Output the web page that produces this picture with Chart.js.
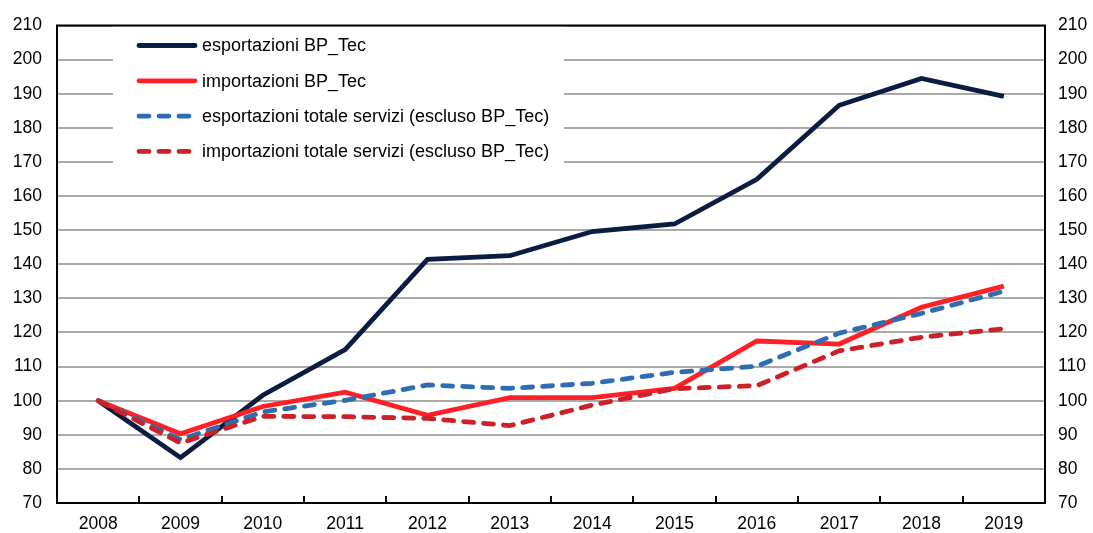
<!DOCTYPE html>
<html>
<head>
<meta charset="utf-8">
<script src="https://cdn.jsdelivr.net/npm/chart.js@4/dist/chart.umd.min.js"></script>
<style>
html,body{margin:0;padding:0;background:#fff;}
#wrap{width:1093px;height:533px;}
</style>
</head>
<body>
<div id="wrap"><canvas id="c" width="1093" height="533"></canvas></div>
<script>
const years = ['2008','2009','2010','2011','2012','2013','2014','2015','2016','2017','2018','2019'];
const esportazioniBPTec = [100, 83.3, 101.6, 115.0, 141.4, 142.5, 149.6, 151.8, 164.9, 186.6, 194.5, 189.2];
const importazioniBPTec = [100, 90.3, 98.3, 102.5, 95.7, 100.9, 100.9, 103.6, 117.5, 116.6, 127.4, 133.6];
const esportazioniTotale = [100, 88.6, 96.7, 100.1, 104.6, 103.6, 105.1, 108.3, 110.1, 119.8, 125.6, 132.1];
const importazioniTotale = [100, 87.6, 95.4, 95.3, 94.8, 92.7, 98.7, 103.5, 104.4, 114.6, 118.6, 121.1];
const seriesLabels = ['esportazioni BP_Tec','importazioni BP_Tec','esportazioni totale servizi (escluso BP_Tec)','importazioni totale servizi (escluso BP_Tec)'];
const yMin = 70, yMax = 210, yStep = 10;

const FONT = '"Liberation Sans", Arial, sans-serif';
const DASH = [10, 10];

const boxPlugin = {
  id: 'boxPlugin',
  beforeDatasetsDraw(chart) {
    const ctx = chart.ctx, a = chart.chartArea;
    ctx.save();
    ctx.fillStyle = '#fff';
    ctx.fillRect(a.left + 56, a.top + 1, 451, 148);
    ctx.restore();
  },
  afterDatasetsDraw(chart) {
    const ctx = chart.ctx, a = chart.chartArea, xs = chart.scales.x;
    ctx.save();
    // legend
    chart.data.datasets.forEach((ds, i) => {
      const y = a.top + 20 + i * 35.3;
      ctx.beginPath();
      ctx.strokeStyle = ds.borderColor;
      ctx.lineWidth = ds.borderWidth;
      ctx.lineCap = 'round';
      ctx.setLineDash(ds.borderDash || []);
      ctx.moveTo(a.left + 82, y);
      ctx.lineTo(a.left + 138, y);
      ctx.stroke();
      ctx.setLineDash([]);
      ctx.fillStyle = '#000';
      ctx.font = '18px ' + FONT;
      ctx.textBaseline = 'middle';
      ctx.textAlign = 'left';
      ctx.fillText(ds.label, a.left + 145, y + 1);
    });
    // plot border
    ctx.strokeStyle = '#000';
    ctx.lineWidth = 2;
    ctx.lineCap = 'butt';
    ctx.strokeRect(a.left, a.top, a.right - a.left, a.bottom - a.top);
    // inward tick marks between categories
    for (let i = 0; i < years.length - 1; i++) {
      const x = Math.round((xs.getPixelForValue(i) + xs.getPixelForValue(i + 1)) / 2);
      ctx.beginPath();
      ctx.moveTo(x, a.bottom);
      ctx.lineTo(x, a.bottom - 7);
      ctx.stroke();
    }
    ctx.restore();
  }
};

const yTicks = {
  stepSize: yStep,
  color: '#000',
  font: { family: FONT, size: 17.5 },
};

new Chart(document.getElementById('c'), {
  type: 'line',
  data: {
    labels: years,
    datasets: [
      { label: seriesLabels[0], data: esportazioniBPTec, borderColor: '#0b1c42', borderWidth: 4.8, order: 3 },
      { label: seriesLabels[1], data: importazioniBPTec, borderColor: '#ff1f27', borderWidth: 4.8, order: 2 },
      { label: seriesLabels[2], data: esportazioniTotale, borderColor: '#2f6db2', borderWidth: 4.8, borderDash: DASH, borderCapStyle: 'round', order: 1 },
      { label: seriesLabels[3], data: importazioniTotale, borderColor: '#cc2129', borderWidth: 4.8, borderDash: DASH, borderCapStyle: 'round', order: 0 },
    ].map(d => Object.assign({ pointRadius: 0, tension: 0, fill: false, borderJoinStyle: 'miter', yAxisID: 'y' }, d))
  },
  options: {
    responsive: false,
    animation: false,
    devicePixelRatio: 1,
    layout: { padding: { top: 21, left: 0, right: 0, bottom: 0 } },
    plugins: { legend: { display: false }, tooltip: { enabled: false } },
    scales: {
      x: {
        offset: true,
        grid: { display: false, drawTicks: false },
        border: { display: false },
        ticks: { color: '#000', font: { family: FONT, size: 17.5 }, padding: 11, maxRotation: 0, autoSkip: false },
        afterFit(s) { s.height = 30; }
      },
      y: {
        position: 'left',
        min: yMin, max: yMax,
        grid: { color: '#aaaaaa', lineWidth: 2, drawTicks: false },
        border: { display: false },
        ticks: Object.assign({ padding: 15 }, yTicks),
        afterFit(s) { s.width = 57; }
      },
      y2: {
        position: 'right',
        min: yMin, max: yMax,
        grid: { display: false, drawTicks: false },
        border: { display: false },
        ticks: Object.assign({ padding: 13 }, yTicks),
        afterFit(s) { s.width = 48; }
      }
    }
  },
  plugins: [boxPlugin]
});
</script>
</body>
</html>
